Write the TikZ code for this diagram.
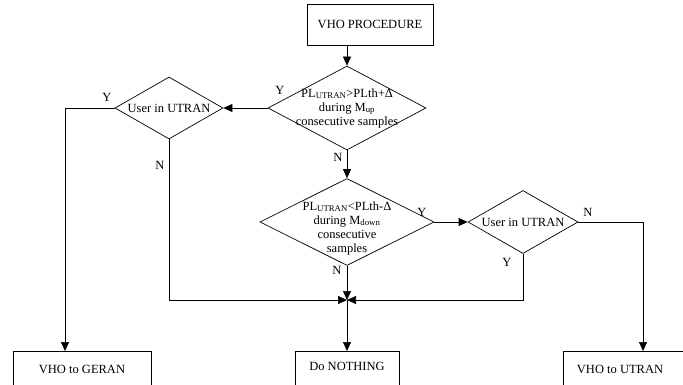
\documentclass[tikz,border=0pt]{standalone}
\usepackage{fontspec}
\setmainfont{Liberation Serif}
\usetikzlibrary{shapes.geometric,arrows.meta}
\begin{document}
\begin{tikzpicture}[x=1pt,y=-1pt,
  font=\fontsize{12.5}{14}\selectfont,
  box/.style={draw,line width=0.7pt,inner sep=0},
  dia/.style={draw,diamond,line width=0.7pt,inner sep=0},
  txt/.style={inner sep=0,align=center},
  conn/.style={line width=0.7pt},
  arr/.style={conn,-{Triangle[length=9pt,width=8pt]}},
  lbl/.style={inner sep=0}]
\path[use as bounding box] (0,0) rectangle (683,385);
\clip (0,0) rectangle (683,385);
% boxes
\node[box,minimum width=126,minimum height=41] (top) at (370,24.5) {VHO PROCEDURE};
\node[box,minimum width=138,minimum height=50,anchor=north] (geran) at (82,351) {};
\node[txt] (gerant) at (82,369) {VHO to GERAN};
\node[box,minimum width=104,minimum height=50,anchor=north] (noth) at (347,351) {};
\node[txt] (notht) at (347,366) {Do NOTHING};
\node[box,minimum width=127,minimum height=50,anchor=north] (utran) at (626.5,351) {};
\node[txt] (utrant) at (620,369) {VHO to UTRAN};
% diamonds
\node[dia,minimum width=158,minimum height=84] (d1) at (347,108) {};
\node[txt] (d1t) at (347,108) {PL\textsubscript{UTRAN}>PLth+Δ\\during M\textsubscript{up}\\consecutive samples};
\node[dia,minimum width=108,minimum height=62] (lu) at (169,108) {};
\node[txt] (lut) at (169,108) {User in UTRAN};
\node[dia,minimum width=174,minimum height=87] (d2) at (347,222) {};
\node[txt] (d2t) at (347,228) {PL\textsubscript{UTRAN}<PLth-Δ\\during M\textsubscript{down}\\consecutive\\samples};
\node[dia,minimum width=110,minimum height=63] (ru) at (523,222) {};
\node[txt] (rut) at (523,222) {User in UTRAN};
% coordinates
\coordinate (x) at (347,300);
\coordinate (gin) at (65,351);
\coordinate (uin) at (643,351);
% connectors
\draw[arr] (top.south -| d1.north) -- (d1.north);
\draw[arr] (d1.west) -- (lu.east);
\draw[arr] (lu.west) -| (gin);
\draw[arr] (lu.south) |- (x);
\draw[arr] (d1.south) -- (d2.north);
\draw[arr] (d2.east) -- (ru.west);
\draw[arr] (d2.south) -- (x);
\draw[arr] (ru.south) |- (x);
\draw[arr] (ru.east) -| (uin);
\draw[arr] (x) -- (noth.north);
% labels
\node[lbl] (y1) at (280,90) {Y};
\node[lbl] (n1) at (338,157) {N};
\node[lbl] (yl) at (107,97) {Y};
\node[lbl] (nl) at (160,165) {N};
\node[lbl] (y2) at (422,212) {Y};
\node[lbl] (n2) at (337,270) {N};
\node[lbl] (nr) at (588,212) {N};
\node[lbl] (yr) at (507,262) {Y};
\end{tikzpicture}
\end{document}
